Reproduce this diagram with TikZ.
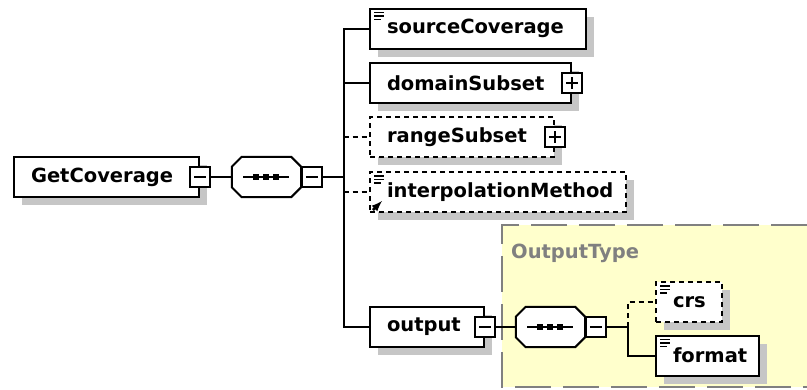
\documentclass[tikz,border=0pt]{standalone}
\usepackage{fontspec}
\setmainfont{DejaVu Sans}
\usetikzlibrary{shapes,arrows,positioning,shadows}

\definecolor{typefill}{RGB}{255,255,204}
\definecolor{typegray}{RGB}{128,128,128}
\definecolor{shadowgray}{RGB}{198,198,198}
\newcommand{\elfont}{\bfseries\fontsize{19.5}{22}\selectfont}
\newcommand{\docicon}{\foreach \len/\dy in {10/4,10/7.5,7/11}
	\draw[solid,line width=1.7pt] ([shift={(4pt,-\dy pt)}]path picture bounding box.north west) -- ++(\len pt,0pt);}
\newcommand{\reficon}{\draw[solid,line width=2.6pt,-latex] ([shift={(3pt,2pt)}]path picture bounding box.south west) -- ++(9pt,9pt);}
% octagon of a sequence, drawn round an (invisible) node
\newcommand{\octpath}[1]{([xshift=10pt]#1.north west) -- ([xshift=-10pt]#1.north east) -- ([yshift=-10pt]#1.north east)
	-- ([yshift=10pt]#1.south east) -- ([xshift=-10pt]#1.south east) -- ([xshift=10pt]#1.south west)
	-- ([yshift=10pt]#1.south west) -- ([yshift=-10pt]#1.north west) -- cycle}
\newcommand{\seqoct}[1]{%
	\fill[shadowgray,shift={(8pt,-8pt)}] \octpath{#1};
	\draw[fill=white,line width=2pt] \octpath{#1};
	\draw[line width=2pt] ([xshift=-23pt]#1.center) -- ([xshift=23pt]#1.center);
	\foreach \dx in {-10,0,10}
		\fill[black] ([xshift=\dx pt]#1.center) +(-3pt,-3pt) rectangle +(3pt,3pt);}

\tikzset{
	boxshadow/.style={drop shadow={shadow xshift=8pt,shadow yshift=-8pt,fill=shadowgray,opacity=1}},
	elem/.style={draw,fill=white,line width=2pt,anchor=west,minimum height=40pt,
		inner xsep=17pt,inner ysep=0pt,text width=#1,align=left,font=\elfont,boxshadow},
	optional/.style={dash pattern=on 5pt off 4pt},
	doc/.style={path picture={\docicon}},
	docref/.style={path picture={\docicon\reficon}},
	sqbox/.style={draw,fill=white,line width=1.5pt,minimum size=20pt,inner sep=0pt},
	minusbox/.style={sqbox,path picture={\draw[line width=1.5pt] ([xshift=-6pt]path picture bounding box.center) -- ([xshift=6pt]path picture bounding box.center);}},
	plusbox/.style={sqbox,path picture={\draw[line width=1.5pt] ([xshift=-6pt]path picture bounding box.center) -- ([xshift=6pt]path picture bounding box.center)
		([yshift=-6pt]path picture bounding box.center) -- ([yshift=6pt]path picture bounding box.center);}},
	seqbox/.style={rectangle,minimum width=69pt,minimum height=40pt,inner sep=0pt},
	conn/.style={line width=2pt},
	typeline/.style={draw=typegray,line width=2.5pt,dash pattern=on 36pt off 12pt}
}

\begin{document}
\begin{tikzpicture}[x=1pt,y=-1pt]
	\useasboundingbox (0,0) rectangle (807,389);
	% OutputType
	\fill[typefill] (502,225) rectangle (807,387);
	\draw[typeline] (807,225) -- (502,225) -- (502,387) -- (807,387);
	\node[anchor=west,inner sep=0pt,text=typegray,font=\elfont] (typeLbl) at (511,253) {OutputType};

	% GetCoverage and its sequence
	\node[elem=151pt] (getcov) at (13,177) {GetCoverage};
	\node[minusbox] (getcovM) at (getcov.east) {};
	\node[seqbox,right=21pt of getcovM] (seqA) {};
	\seqoct{seqA}
	\node[minusbox,anchor=west] (seqAM) at (seqA.east) {};
	\coordinate[right=21pt of seqAM] (bus);

	% children
	\node[elem=182pt,doc] (sourceCov) at (369,28.5) {sourceCoverage};
	\node[elem=167pt] (domainSub) at (369,83) {domainSubset};
	\node[plusbox] (domainSubP) at (domainSub.east) {};
	\node[elem=150pt,optional] (rangeSub) at (369,137) {rangeSubset};
	\node[plusbox] (rangeSubP) at (rangeSub.east) {};
	\node[elem=222pt,optional,docref] (interp) at (369,192) {interpolationMethod};
	\node[elem=80pt] (output) at (369,327) {output};
	\node[minusbox] (outputM) at (output.east) {};

	% OutputType sequence
	\node[seqbox,right=20pt of outputM] (seqB) {};
	\seqoct{seqB}
	\node[minusbox,anchor=west] (seqBM) at (seqB.east) {};
	\coordinate[right=21pt of seqBM] (brB);
	\node[elem=32pt,optional,doc] (crs) at (655,302) {crs};
	\node[elem=69pt,doc] (format) at (655,355.5) {format};

	% connectors
	\draw[conn] (getcovM.east) -- (seqA.west);
	\draw[conn] (seqAM.east) -- (bus);
	\draw[conn] (sourceCov.west) -| (bus) |- (output.west);
	\draw[conn] (domainSub.west -| bus) -- (domainSub.west);
	\foreach \n in {rangeSub,interp}
		\draw[conn,optional] (\n.west -| bus) -- (\n.west);
	\draw[conn] (outputM.east) -- (seqB.west);
	\draw[conn] (seqBM.east) -- (brB) |- (format.west);
	\draw[conn,optional] (brB) |- (crs.west);
\end{tikzpicture}
\end{document}
